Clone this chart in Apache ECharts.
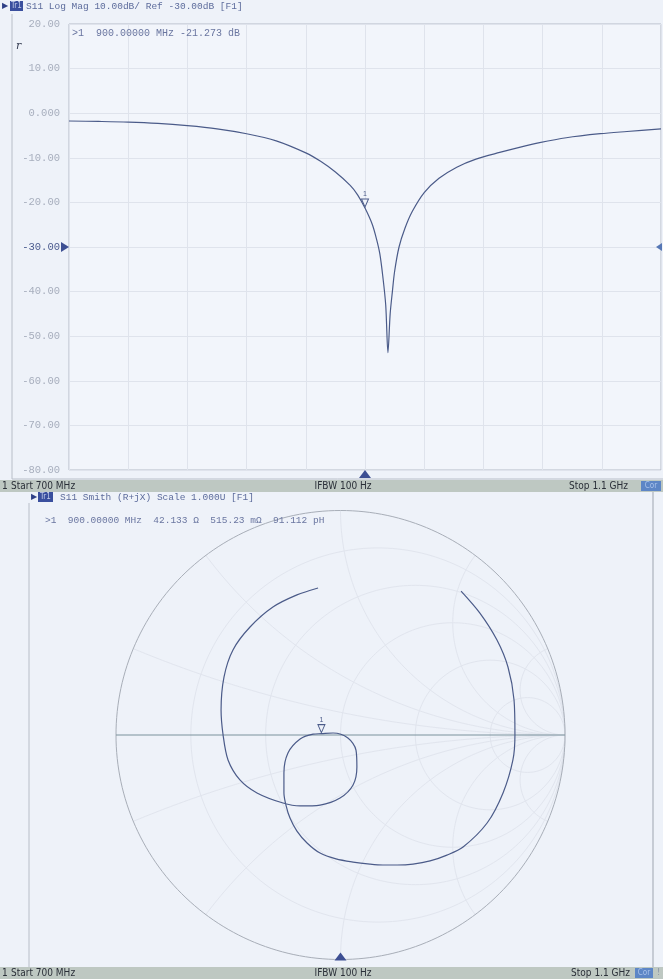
<!DOCTYPE html>
<html>
<head>
<meta charset="utf-8">
<title>S11 Log Mag / Smith</title>
<script src="https://cdn.jsdelivr.net/npm/echarts@6/dist/echarts.min.js"></script>
<style>
html,body{margin:0;padding:0;background:#eef2f9;}
#container{width:663px;height:979px;}
</style>
</head>
<body>
<div id="container"></div>
<script>
// S11 log magnitude, 700 MHz .. 1.1 GHz
var freqMHz = [700, 720, 740, 760, 780, 800, 820, 840, 860, 870, 880, 890, 895, 900, 905, 908, 910, 912, 914, 915.5, 917, 918.5, 920, 923, 927, 932, 940, 950, 962, 975, 991, 1005, 1018, 1036, 1059, 1077, 1100];
var s11dB = [-1.75, -1.85, -2.0, -2.3, -2.8, -3.5, -4.6, -6.2, -8.9, -10.8, -13.2, -16.2, -18.3, -21.27, -25.0, -28.5, -31.5, -36.5, -43.0, -53.7, -45.0, -40.0, -35.5, -30.0, -25.8, -22.0, -17.8, -14.6, -12.1, -10.3, -8.8, -7.6, -6.6, -5.5, -4.6, -4.1, -3.5];

// S11 on the smith chart (reflection coefficient), start 700 MHz upper right, clockwise
var gammaRe = [0.537, 0.621, 0.697, 0.746, 0.773, 0.777, 0.768, 0.724, 0.653, 0.546, 0.474, 0.399, 0.323, 0.252, 0.189, 0.131, 0.056, -0.020, -0.091, -0.149, -0.194, -0.225, -0.243, -0.252, -0.252, -0.234, -0.180, -0.122, -0.085, -0.033, 0.033, 0.069, 0.073, 0.056, -0.002, -0.091, -0.180, -0.256, -0.372, -0.448, -0.501, -0.523, -0.532, -0.519, -0.479, -0.403, -0.301, -0.194, -0.100];
var gammaIm = [0.641, 0.543, 0.423, 0.303, 0.156, 0.000, -0.111, -0.258, -0.392, -0.499, -0.535, -0.561, -0.575, -0.579, -0.579, -0.575, -0.566, -0.552, -0.526, -0.481, -0.428, -0.370, -0.312, -0.258, -0.169, -0.080, -0.018, 0.004, 0.006, 0.009, -0.013, -0.067, -0.143, -0.223, -0.281, -0.312, -0.316, -0.303, -0.258, -0.200, -0.111, 0.000, 0.111, 0.258, 0.379, 0.481, 0.570, 0.624, 0.655];

// marker 1
var markerFreq = 900;
var markerDb = -21.273;
var markerOhm = 42.133;
var markerMilliOhm = 515.23;
var markerPH = 91.112;
var markerRe = -0.085;
var markerIm = 0.006;
var refLevel = -30;

// smith grid
var smithR = [0.2, 0.5, 1, 2, 5];
var smithX = [0.2, 0.5, 1, 2, 5, -0.2, -0.5, -1, -2, -5];

var traceColor = '#4b5b89';
var mono = '"Liberation Mono", "DejaVu Sans Mono", monospace';
var narrow = '"Liberation Sans Narrow", "DejaVu Sans Condensed", sans-serif';

var dom = document.getElementById('container');
var myChart = echarts.init(dom);

function rCircle(r){
	var c = r/(1+r), rad = 1/(1+r), pts = [];
	for(var i=0;i<=240;i++){
		var t = i/240*2*Math.PI;
		pts.push([c+rad*Math.cos(t), rad*Math.sin(t)]);
	}
	return pts;
}
function xArc(x){
	var pts = [];
	for(var i=0;i<=200;i++){
		var r = Math.tan(i/200*1.565);
		var d = (r+1)*(r+1)+x*x;
		pts.push([(r*r-1+x*x)/d, 2*x/d]);
	}
	pts.push([1,0]);
	return pts;
}

var logData = freqMHz.map(function(f,i){ return [f, s11dB[i]]; });
var smithData = gammaRe.map(function(u,i){ return [u, gammaIm[i]]; });

var series = [];
series.push({
	name:'S11 Log Mag',
	type:'line',
	xAxisIndex:0, yAxisIndex:0,
	data:logData,
	symbol:'none',
	smooth:0.3,
	lineStyle:{color:traceColor, width:1.2},
	markPoint:{
		silent:true,
		data:[
			{coord:[markerFreq, markerDb], symbol:'triangle', symbolSize:[7,8], symbolRotate:180, symbolOffset:[0,-5],
				itemStyle:{color:'#eef2f9', borderColor:traceColor, borderWidth:1},
				label:{show:true, position:'top', distance:1, formatter:'1', fontSize:7, color:traceColor}},
			{coord:[markerFreq, -80], symbol:'triangle', symbolSize:[12,8], symbolOffset:[0,4],
				itemStyle:{color:'#3d4f93'}, label:{show:false}},
			{coord:[700, refLevel], symbol:'triangle', symbolSize:[10,8], symbolRotate:-90, symbolOffset:[-4,0],
				itemStyle:{color:'#3d4f93'}, label:{show:false}},
			{coord:[1100, refLevel], symbol:'triangle', symbolSize:[8,6], symbolRotate:90, symbolOffset:[-2,0],
				itemStyle:{color:'#5677b5'}, label:{show:false}}
		]
	}
});

// smith chart grid, very faint on the screen
smithR.forEach(function(r){
	series.push({type:'line', xAxisIndex:1, yAxisIndex:1, data:rCircle(r), symbol:'none', silent:true,
		lineStyle:{color:'#e1e5ee', width:1}});
});
smithX.forEach(function(x){
	series.push({type:'line', xAxisIndex:1, yAxisIndex:1, data:xArc(x), symbol:'none', silent:true,
		lineStyle:{color:'#e1e5ee', width:1}});
});
series.push({type:'line', xAxisIndex:1, yAxisIndex:1, data:rCircle(0), symbol:'none', silent:true,
	lineStyle:{color:'#a8aeb8', width:1}});
series.push({type:'line', xAxisIndex:1, yAxisIndex:1, data:[[-1,0],[1,0]], symbol:'none', silent:true,
	lineStyle:{color:'#7a929c', width:1},
	markPoint:{silent:true, data:[{coord:[0,-1], symbol:'triangle', symbolSize:[12,8], symbolOffset:[0,-3],
		itemStyle:{color:'#3d4f93'}, label:{show:false}}]}});

series.push({
	name:'S11 Smith',
	type:'line',
	xAxisIndex:1, yAxisIndex:1,
	data:smithData,
	symbol:'none',
	smooth:0.3,
	lineStyle:{color:traceColor, width:1.2},
	markPoint:{
		silent:true,
		data:[{coord:[markerRe, markerIm], symbol:'triangle', symbolSize:[7,8], symbolRotate:180, symbolOffset:[0,-5],
			itemStyle:{color:'#eef2f9', borderColor:traceColor, borderWidth:1},
			label:{show:true, position:'top', distance:1, formatter:'1', fontSize:7, color:traceColor}}]
	}
});

function txt(x, y, s, fill, font, align){
	return {type:'text', x:x, y:y, z:100, silent:true,
		style:{text:s, fill:fill, font:font, align:align||'left', verticalAlign:'middle'}};
}
function hline(x1, x2, y, c){
	return {type:'line', z:90, silent:true, shape:{x1:x1, y1:y, x2:x2, y2:y}, style:{stroke:c, lineWidth:1}};
}
function vline(x, y1, y2, c){
	return {type:'line', z:90, silent:true, shape:{x1:x, y1:y1, x2:x, y2:y2}, style:{stroke:c, lineWidth:1}};
}
function rect(x, y, w, h, c){
	return {type:'rect', z:95, silent:true, shape:{x:x, y:y, width:w, height:h}, style:{fill:c}};
}

var topReadout = '>1  ' + markerFreq.toFixed(5) + ' MHz ' + markerDb.toFixed(3) + ' dB';
var smithReadout = '>1  ' + markerFreq.toFixed(5) + ' MHz  ' + markerOhm.toFixed(3) + ' \u03a9  ' +
	markerMilliOhm.toFixed(2) + ' m\u03a9  ' + markerPH.toFixed(3) + ' pH';

var graphic = [
	// top trace header
	txt(2, 6, '\u25b6', '#2e3f86', '8px "DejaVu Sans"'),
	rect(10, 1, 13, 10, '#3a4f9e'),
	txt(16.5, 6, 'Tr1', '#c3cdea', '8px ' + narrow, 'center'),
	txt(26, 6, 'S11 Log Mag 10.00dB/ Ref -30.00dB [F1]', '#5d6c9c', '9.5px ' + mono),
	txt(72, 33, topReadout, '#6a76a0', '10px ' + mono),
	txt(16, 46, 'r', '#333a50', 'italic 11px "DejaVu Serif"'),
	vline(12, 14, 479, '#b8bec8'),
	hline(12, 663, 479, '#b8bec8'),
	// status bar 1
	rect(0, 480, 663, 12, '#bec8c2'),
	txt(2, 486, '1', '#2a2f38', '10px ' + narrow),
	txt(11, 486, 'Start 700 MHz', '#2a2f38', '10px ' + narrow),
	txt(343, 486, 'IFBW 100 Hz', '#2a2f38', '10px ' + narrow, 'center'),
	txt(628, 486, 'Stop 1.1 GHz', '#2a2f38', '10px ' + narrow, 'right'),
	rect(641, 481, 20, 10, '#5d86c6'),
	txt(651, 486, 'Cor', '#a9c2ea', '8px ' + narrow, 'center'),
	// smith header
	txt(31, 497, '\u25b6', '#2e3f86', '8px "DejaVu Sans"'),
	rect(38, 492, 15, 10, '#3a4f9e'),
	txt(45.5, 497, 'Tr1', '#c3cdea', '8px ' + narrow, 'center'),
	txt(60, 497, 'S11 Smith (R+jX) Scale 1.000U [F1]', '#5d6c9c', '9.5px ' + mono),
	txt(45, 520, smithReadout, '#6a76a0', '9.5px ' + mono),
	vline(29, 503, 967, '#b8bec8'),
	vline(653, 492, 967, '#9ea5b0'),
	// status bar 2
	rect(0, 967, 663, 12, '#bec8c2'),
	txt(2, 973, '1', '#2a2f38', '10px ' + narrow),
	txt(11, 973, 'Start 700 MHz', '#2a2f38', '10px ' + narrow),
	txt(343, 973, 'IFBW 100 Hz', '#2a2f38', '10px ' + narrow, 'center'),
	txt(630, 973, 'Stop 1.1 GHz', '#2a2f38', '10px ' + narrow, 'right'),
	rect(635, 968, 18, 10, '#5d86c6'),
	txt(644, 973, 'Cor', '#a9c2ea', '8px ' + narrow, 'center'),
	txt(657, 973, '!', '#8a94a4', '9px ' + narrow)
];

var option = {
	animation:false,
	backgroundColor:'#eef2f9',
	grid:[
		{left:69, top:24, width:592, height:446, show:true, backgroundColor:'#f2f5fb', borderColor:'#b5bbc6', borderWidth:1},
		{left:116, top:510.5, width:449, height:449}
	],
	xAxis:[
		{gridIndex:0, type:'value', min:700, max:1100, show:false},
		{gridIndex:1, type:'value', min:-1, max:1, show:false},
		// 10 divisions across the sweep, counted from start
		{gridIndex:0, type:'value', min:0, max:400, interval:40,
			axisLine:{show:false}, axisTick:{show:false}, axisLabel:{show:false},
			splitLine:{show:true, lineStyle:{color:'#dfe3ec'}}}
	],
	yAxis:[
		{gridIndex:0, type:'value', min:-80, max:20, interval:10,
			axisLine:{show:false}, axisTick:{show:false},
			splitLine:{show:true, lineStyle:{color:'#dfe3ec'}},
			axisLabel:{
				showMinLabel:true, showMaxLabel:true, margin:9,
				fontFamily:'Liberation Mono', fontSize:10.5, color:'#a7aebd',
				formatter:function(v){
					if(v === refLevel){ return '{ref|' + v.toFixed(2) + '}'; }
					return v === 0 ? '0.000' : v.toFixed(2);
				},
				rich:{ref:{fontFamily:'Liberation Mono', fontSize:10.5, color:'#4a5a8e'}}
			}},
		{gridIndex:1, type:'value', min:-1, max:1, show:false}
	],
	series:series,
	graphic:graphic
};

if (option && typeof option === "object") {
	myChart.setOption(option, true);
}
</script>
</body>
</html>
